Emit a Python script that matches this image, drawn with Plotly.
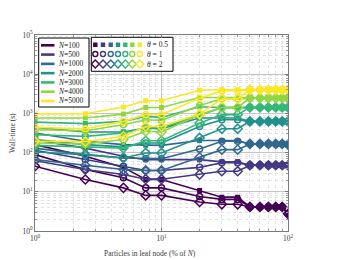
import plotly.graph_objects as go

# ---------------- data ----------------
leaf_pct = [1, 2.5, 5, 7.5, 10, 20, 30, 40, 50, 60, 70, 80, 90, 100]
n_values = [100, 500, 1000, 2000, 3000, 4000, 5000]
theta_values = ["0.5", "1", "2"]
x_ticks = [1, 10, 100]
x_ticktext = ["10<sup>0</sup>", "10<sup>1</sup>", "10<sup>2</sup>"]
y_ticks = [1, 10, 100, 1000, 10000, 100000]
y_ticktext = ["10<sup>0</sup>", "10<sup>1</sup>", "10<sup>2</sup>", "10<sup>3</sup>", "10<sup>4</sup>", "10<sup>5</sup>"]

n100_t05 = [160, 81, 42, 20.6, 20.6, 10.8, 7.3, 7.3, 4.1, 4.1, 4.1, 4.1, 4.1, 2.75]
n100_t1 = [89, 37, 22.7, 12.6, 12.6, 7.6, 6.4, 6.4, 4.1, 4.1, 4.1, 4.1, 4.1, 2.75]
n100_t2 = [45, 20.6, 12.6, 8.1, 8.1, 5.5, 4.8, 4.8, 4.1, 4.1, 4.1, 4.1, 4.1, 2.75]

n500_t05 = [210, 130, 81, 66, 66, 66, 58, 58, 47.6, 47.6, 47.6, 47.6, 47.6, 47.6]
n500_t1 = [115, 66, 45, 35, 35, 42, 55, 55, 47.6, 47.6, 47.6, 47.6, 47.6, 47.6]
n500_t2 = [62, 37, 27.6, 21, 21, 27.6, 33.5, 33.5, 47.6, 47.6, 47.6, 47.6, 47.6, 47.6]

n1000_t05 = [316, 195, 160, 153, 153, 203, 203, 203, 166, 166, 166, 166, 166, 160]
n1000_t1 = [130, 89, 73, 70, 70, 123, 195, 195, 166, 166, 166, 166, 166, 160]
n1000_t2 = [66, 47.5, 37, 35, 35, 76, 119, 119, 166, 166, 166, 166, 166, 160]

n2000_t05 = [440, 335, 335, 420, 410, 760, 760, 760, 625, 625, 625, 625, 625, 625]
n2000_t1 = [215, 160, 140, 176, 176, 465, 690, 690, 625, 625, 625, 625, 625, 625]
n2000_t2 = [104, 89, 73, 98, 98, 236, 405, 405, 625, 625, 625, 625, 625, 625]

n3000_t05 = [600, 550, 625, 840, 790, 1480, 1420, 1420, 1420, 1420, 1420, 1420, 1420, 1420]
n3000_t1 = [285, 260, 316, 425, 425, 890, 1400, 1400, 1420, 1420, 1420, 1420, 1420, 1420]
n3000_t2 = [153, 137, 130, 200, 200, 565, 930, 930, 1420, 1420, 1420, 1420, 1420, 1420]

n4000_t05 = [760, 760, 960, 1420, 1420, 2550, 2550, 2550, 2460, 2460, 2460, 2460, 2460, 2460]
n4000_t1 = [385, 360, 515, 690, 660, 1600, 2350, 2350, 2460, 2460, 2460, 2460, 2460, 2460]
n4000_t2 = [176, 166, 215, 350, 335, 920, 1420, 1420, 2460, 2460, 2460, 2460, 2460, 2460]

n5000_t05 = [970, 980, 1450, 2100, 2100, 3900, 4000, 4000, 3990, 3990, 3990, 3990, 3990, 3990]
n5000_t1 = [440, 405, 625, 930, 930, 2450, 3800, 3800, 3990, 3990, 3990, 3990, 3990, 3990]
n5000_t2 = [195, 190, 260, 465, 465, 960, 2350, 2350, 3990, 3990, 3990, 3990, 3990, 3990]

series = [
    [n100_t05, n100_t1, n100_t2],
    [n500_t05, n500_t1, n500_t2],
    [n1000_t05, n1000_t1, n1000_t2],
    [n2000_t05, n2000_t1, n2000_t2],
    [n3000_t05, n3000_t1, n3000_t2],
    [n4000_t05, n4000_t1, n4000_t2],
    [n5000_t05, n5000_t1, n5000_t2],
]

# ---------------- style ----------------
colors = ['#440154', '#443983', '#31688e', '#21918c', '#35b779', '#90d743', '#fde725']
symbols = ['square', 'circle-open', 'diamond-open']
msizes = [3.5, 6, 7]
legend_msizes = [3, 5, 6]
FONT = "Liberation Serif, Times New Roman, serif"
TXT = "#3a3a3a"

W, H = 344, 260
L, T, R, B = 27, 27, 280, 223  # plot area in pixels


def px(x):
    return (x - L) / (R - L)


def py(y):
    return (B - y) / (B - T)


fig = go.Figure()

for ci, n in enumerate(n_values):
    for ti, th in enumerate(theta_values):
        fig.add_trace(go.Scatter(
            x=leaf_pct, y=series[ci][ti], mode='lines+markers',
            line=dict(color=colors[ci], width=1.6),
            marker=dict(symbol=symbols[ti], size=msizes[ti], color=colors[ci],
                        line=dict(width=1.5, color=colors[ci])),
            showlegend=False, name=f"N={n}, theta={th}"))

# ---------------- custom legends ----------------
shapes = []
annotations = []
legend_font = dict(family=FONT, size=7.5, color='#222')

# left legend box
shapes.append(dict(type='rect', xref='paper', yref='paper', x0=px(30.7), x1=px(81),
                   y0=py(99), y1=py(30), line=dict(color='black', width=1),
                   fillcolor='white', layer='above'))
for i, n in enumerate(n_values):
    yy = 37.3 + i * 9.28
    shapes.append(dict(type='line', xref='paper', yref='paper', x0=px(33), x1=px(46.5),
                       y0=py(yy), y1=py(yy), line=dict(color=colors[i], width=2.6),
                       layer='above'))
    annotations.append(dict(xref='paper', yref='paper', x=px(48), y=py(yy),
                            text=f"<i>N</i>={n}", showarrow=False,
                            xanchor='left', yanchor='middle', font=legend_font))

# right legend box: white box drawn on overlay axes, then marker rows on top
bx0, bx1, by0, by1 = 83.3, 165, 29.3, 63.3
fig.add_trace(go.Scatter(
    x=[bx0, bx1, bx1, bx0, bx0], y=[by0, by0, by1, by1, by0], mode='lines',
    fill='toself', fillcolor='white', line=dict(color='black', width=1),
    xaxis='x2', yaxis='y2', showlegend=False, hoverinfo='skip'))
mx = [87.3, 95, 102.7, 110, 117.3, 124.3, 131.7]
rows = [36.7, 46, 56]
for ti, th in enumerate(theta_values):
    fig.add_trace(go.Scatter(
        x=mx, y=[rows[ti]] * len(mx), mode='markers', xaxis='x2', yaxis='y2',
        marker=dict(symbol=symbols[ti], size=legend_msizes[ti], color=colors,
                    line=dict(width=1.4, color=colors)),
        showlegend=False, hoverinfo='skip', cliponaxis=False))
    annotations.append(dict(xref='paper', yref='paper', x=px(136.5), y=py(rows[ti]),
                            text=f"<i>θ</i> = {th}", showarrow=False,
                            xanchor='left', yanchor='middle', font=legend_font))

# axis titles
annotations.append(dict(xref='paper', yref='paper', x=px(142), y=py(245),
                        text="Particles in leaf node (% of <i>N</i>)", showarrow=False,
                        xanchor='center', yanchor='middle',
                        font=dict(family=FONT, size=7.5, color=TXT)))
annotations.append(dict(xref='paper', yref='paper', x=px(4), y=py(125),
                        text="Wall-time (s)", showarrow=False, textangle=-90,
                        xanchor='center', yanchor='middle',
                        font=dict(family=FONT, size=7.5, color=TXT)))

minor_x = [v * d for d in (1, 10) for v in range(2, 10)]
minor_y = [v * d for d in (1, 10, 100, 1000, 10000) for v in range(2, 10)]

axis_common = dict(showline=True, linecolor='#7a7a7a', linewidth=1, mirror='allticks',
                   ticks='inside', ticklen=3, tickcolor='#7a7a7a', tickmode='array',
                   showgrid=True, gridcolor='#c4c4c4', gridwidth=1, zeroline=False,
                   tickfont=dict(family=FONT, size=7.5, color=TXT))

fig.update_layout(
    width=W, height=H, margin=dict(l=L, r=W - R, t=T, b=H - B, autoexpand=False),
    paper_bgcolor='white', plot_bgcolor='white', showlegend=False,
    xaxis=dict(type='log', range=[0, 2], tickvals=x_ticks, ticktext=x_ticktext,
               minor=dict(tickmode='array', tickvals=minor_x, ticks='inside', ticklen=2,
                          tickcolor='#9a9a9a', showgrid=True, gridcolor='#e2e2e2',
                          griddash='dot', gridwidth=1),
               **axis_common),
    yaxis=dict(type='log', range=[0, 5], tickvals=y_ticks, ticktext=y_ticktext,
               minor=dict(tickmode='array', tickvals=minor_y, ticks='inside', ticklen=2,
                          tickcolor='#9a9a9a', showgrid=True, gridcolor='#e2e2e2',
                          griddash='dot', gridwidth=1),
               **axis_common),
    xaxis2=dict(overlaying='x', range=[L, R], visible=False, fixedrange=True),
    yaxis2=dict(overlaying='y', range=[B, T], visible=False, fixedrange=True),
    shapes=shapes, annotations=annotations,
)

fig.write_html("out.html")
